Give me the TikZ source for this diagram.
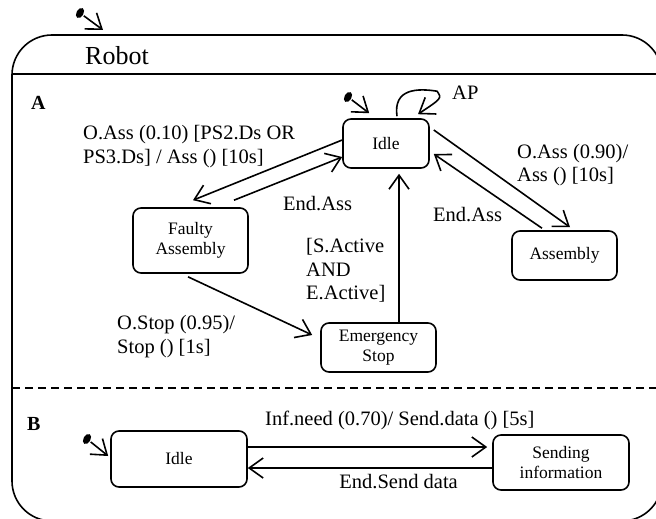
\documentclass[tikz,border=0pt]{standalone}
\usepackage{fontspec}
\setmainfont{Liberation Serif}
\usetikzlibrary{arrows.meta,calc,shapes.geometric}
\begin{document}
\begin{tikzpicture}[x=1pt,y=-1pt,
  lw/.style={line width=1.6pt},
  st/.style={draw,lw,rounded corners=8pt,inner sep=0pt,align=center,font=\fontsize{17.5}{20.5}\selectfont},
  lbl/.style={anchor=west,align=left,inner sep=0pt,font=\fontsize{20.5}{23.5}\selectfont},
  arr/.style={lw,-{Straight Barb[length=14pt,width=20pt]}},
  initdot/.style={fill,ellipse,minimum width=7pt,minimum height=11pt,inner sep=0pt,rotate=-30}]
\useasboundingbox (0,0) rectangle (656,519);
\clip (0,0) rectangle (656,519);
% outer composite state
\draw[lw, rounded corners=40pt] (12,35) rectangle (662,521);
\draw[lw] (12,74) -- (662,74);
\draw[lw, dash pattern=on 8pt off 5pt] (12,388) -- (662,388);
\node[lbl,font=\fontsize{26}{30}\selectfont] (robot) at (85,56) {Robot};
\node[lbl,font=\bfseries\fontsize{20}{24}\selectfont] (rA) at (31,103) {A};
\node[lbl,font=\bfseries\fontsize{20}{24}\selectfont] (rB) at (27,424) {B};
% states
\node[st,minimum width=86pt,minimum height=49pt] (idleA) at (386,143.5) {Idle};
\node[st,minimum width=105pt,minimum height=49pt] (asm) at (564.5,255.5) {Assembly};
\node[st,minimum width=115pt,minimum height=65pt] (faulty) at (190.5,240.5) {Faulty\\Assembly};
\node[st,minimum width=115pt,minimum height=49pt] (emer) at (378.5,347.5) {Emergency\\Stop};
\node[st,minimum width=136pt,minimum height=56pt] (idleB) at (179,459) {Idle};
\node[st,minimum width=136pt,minimum height=55pt] (send) at (561,462.5) {Sending\\information};
% initial pseudostates
\node[initdot] (i0) at (80,13) {};
\coordinate (i0t) at (103,30);
\draw[arr,shorten <=1pt] (i0) -- (i0t);
\node[initdot] (i1) at (348,97) {};
\draw[arr,shorten <=1pt] (i1) -- ($(idleA.north west)+(27,-5)$);
\node[initdot] (i2) at (87,439) {};
\draw[arr,shorten <=1pt] (i2) -- ($(idleB.west)+(-2,-3)$);
% transitions in A
\draw[arr] ($(idleA.west)+(0,-3.5)$) -- ($(faulty.north)+(2.5,-7)$);
\draw[arr] ($(faulty.north)+(43.5,-7)$) -- ($(idleA.west)+(0,13.5)$);
\draw[arr] ($(idleA.east)+(4,-13.5)$) -- ($(asm.north)+(5.5,-3)$);
\draw[arr] ($(asm.north)+(-22.5,-2)$) -- ($(idleA.east)+(4,10.5)$);
\draw[arr] ($(emer.north)+(20.5,0)$) -- ($(idleA.south)+(13,5)$);
\draw[arr] ($(faulty.south)+(-2.5,3)$) -- ($(emer.west)+(-8,-12.5)$);
\draw[arr] ($(idleA.north)+(11,-2)$) .. controls ($(idleA.north)+(7,-30)$) and ($(idleA.north)+(32,-30)$) .. ($(idleA.north)+(51,-27)$) .. controls ($(idleA.north)+(56,-20)$) .. ($(idleA.north)+(32,-4)$);
% transitions in B
\draw[arr] ($(idleB.east)+(0,-12)$) -- ($(send.west)+(-5,-15.5)$);
\draw[arr] ($(send.west)+(0,5.5)$) -- ($(idleB.east)+(0,9)$);
% labels
\node[lbl] (l1) at (83,146.5) {O.Ass (0.10) [PS2.Ds OR\\PS3.Ds] / Ass () [10s]};
\node[lbl] (l2) at (283,204) {End.Ass};
\node[lbl] (l3) at (433,215) {End.Ass};
\node[lbl] (l4) at (517,165) {O.Ass (0.90)/\\Ass () [10s]};
\node[lbl] (l5) at (306,270.5) {[S.Active\\AND\\E.Active]};
\node[lbl] (l6) at (117,336.5) {O.Stop (0.95)/\\Stop () [1s]};
\node[lbl] (l7) at (265,420) {Inf.need (0.70)/ Send.data () [5s]};
\node[lbl,anchor=east] (l8) at (458,482) {End.Send data};
\node[lbl] (l9) at (452,93) {AP};
\end{tikzpicture}
\end{document}
